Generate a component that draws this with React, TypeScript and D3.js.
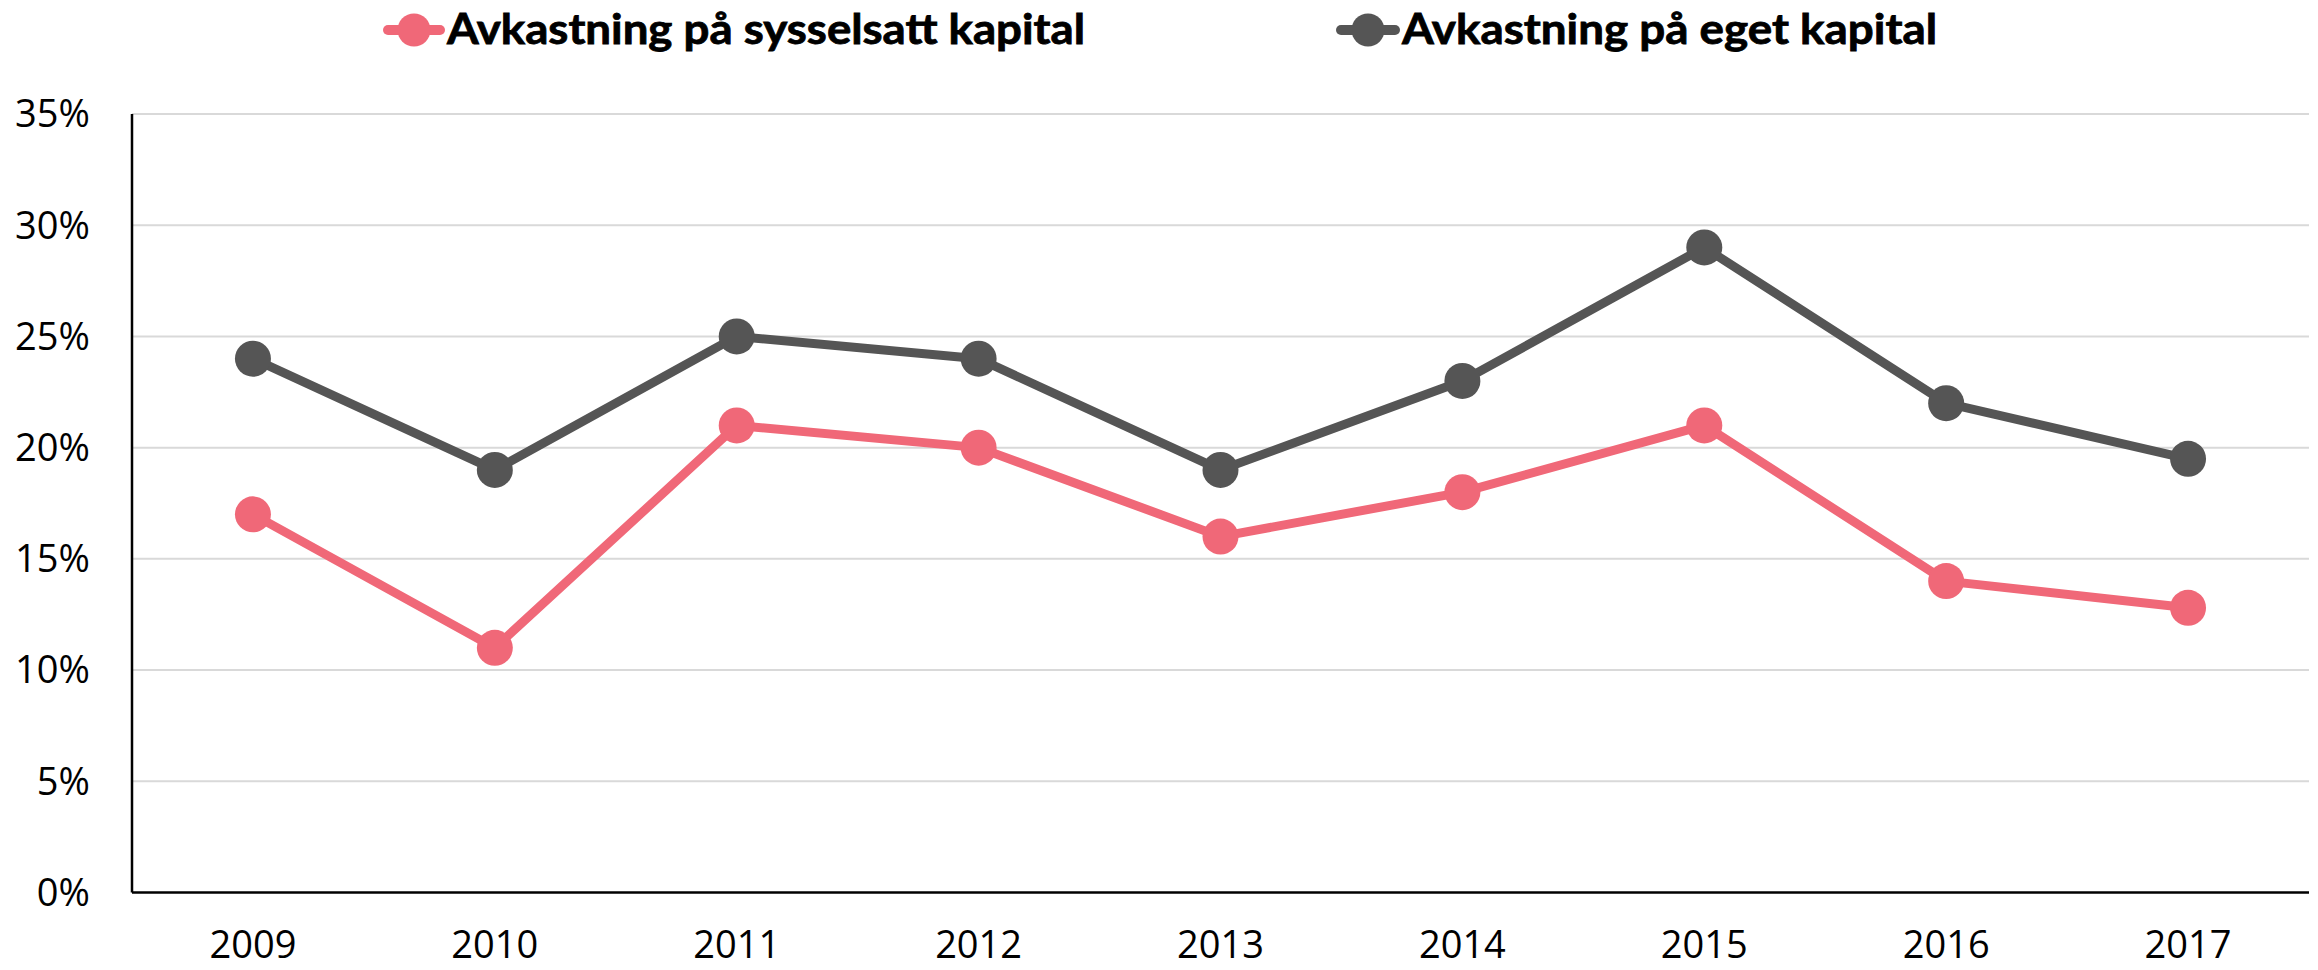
import React from "react";
import * as d3 from "d3";

const years = ["2009", "2010", "2011", "2012", "2013", "2014", "2015", "2016", "2017"];
const sysselsatt = [17, 11, 21, 20, 16, 18, 21, 14, 12.8];
const eget = [24, 19, 25, 24, 19, 23, 29, 22, 19.5];
const yTicks = [0, 5, 10, 15, 20, 25, 30, 35];
const seriesNames = ["Avkastning på sysselsatt kapital", "Avkastning på eget kapital"];

const W = 2318;
const H = 970;
const PINK = "#F06878";
const DARK = "#555555";
const FONT = "'Open Sans', 'Liberation Sans', sans-serif";
const LFONT = "Lato, 'Open Sans', sans-serif";

export default function App() {
  const left = 132, right = 2309, top = 114, bottom = 892.5;
  const x = d3.scaleBand<string>().domain(years).range([left, right]);
  const y = d3.scaleLinear().domain([0, 35]).range([bottom, top]);
  const cx = (yr: string) => (x(yr) as number) + x.bandwidth() / 2;
  const line = d3.line<number>().x((_, i) => cx(years[i])).y((d) => y(d));

  const series = [
    { name: seriesNames[0], values: sysselsatt, color: PINK, lx: 383, lw: 62, tx: 447, tl: 638 },
    { name: seriesNames[1], values: eget, color: DARK, lx: 1336, lw: 64, tx: 1402, tl: 535 },
  ];

  return (
    <svg width={W} height={H} style={{ position: "fixed", left: 0, top: 0, background: "#fff" }}>
      {yTicks.map((t) => (
        <g key={t}>
          {t > 0 && <line x1={left} x2={right} y1={y(t)} y2={y(t)} stroke="#d9d9d9" strokeWidth={2} />}
          <text x={90} y={y(t)} dy="0.35em" textAnchor="end" fontFamily={FONT} fontSize={38} fill="#000">
            {t}%
          </text>
        </g>
      ))}
      {years.map((yr) => (
        <text key={yr} x={cx(yr)} y={958} textAnchor="middle" fontFamily={FONT} fontSize={38} fill="#000">
          {yr}
        </text>
      ))}
      <line x1={left} x2={left} y1={top} y2={bottom} stroke="#000" strokeWidth={2.5} />
      <line x1={left} x2={right} y1={bottom} y2={bottom} stroke="#000" strokeWidth={2.5} />
      {series.map((s) => (
        <g key={s.name}>
          <path d={line(s.values) as string} fill="none" stroke={s.color} strokeWidth={9} strokeLinejoin="round" />
          {s.values.map((v, i) => (
            <circle key={i} cx={cx(years[i])} cy={y(v)} r={18} fill={s.color} />
          ))}
        </g>
      ))}
      {series.map((s) => (
        <g key={"lg" + s.name}>
          <line x1={s.lx + 5} x2={s.lx + s.lw - 5} y1={30} y2={30} stroke={s.color} strokeWidth={10} strokeLinecap="round" />
          <circle cx={s.lx + s.lw / 2} cy={30} r={16.5} fill={s.color} />
          <text
            x={s.tx}
            y={43.5}
            fontFamily={LFONT}
            fontWeight="bold"
            fontSize={42}
            textLength={s.tl}
            lengthAdjust="spacingAndGlyphs"
            fill="#000"
            stroke="#000"
            strokeWidth={0.8}
          >
            {s.name}
          </text>
        </g>
      ))}
    </svg>
  );
}
